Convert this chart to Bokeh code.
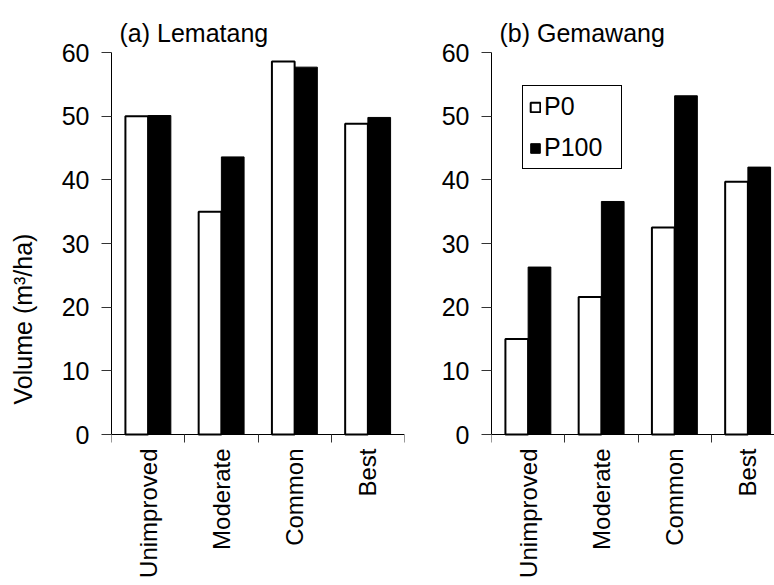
import math
import numpy as np
from bokeh.plotting import figure
from bokeh.layouts import row
from bokeh.models import (Range1d, FixedTicker, CustomJSTickFormatter, Legend,
                          LegendItem, ColumnDataSource)
from bokeh.embed import file_html
from bokeh.resources import INLINE

categories = ["Unimproved", "Moderate", "Common", "Best"]
lematang_p0 = [50.0, 35.0, 58.6, 48.8]
lematang_p100 = [50.1, 43.6, 57.7, 49.8]
gemawang_p0 = [15.0, 21.6, 32.5, 39.7]
gemawang_p100 = [26.3, 36.6, 53.2, 42.0]
y_ticks = [0, 10, 20, 30, 40, 50, 60]
panel_titles = ["(a) Lematang", "(b) Gemawang"]
series_names = ["P0", "P100"]
y_label = "Volume (m\u00b3/ha)"

FONT = "Liberation Sans"
FS = "25px"
BAR_W = 0.31
FIG_H = 585
TOP = 52          # frame top (px)
ZERO = 434        # y=0 position (px)
Y_MAX = 60
# frame extends to the bottom of the canvas; the value axis stays 0..60
Y_MIN = -Y_MAX * (FIG_H - ZERO) / (ZERO - TOP)


def make_panel(title, p0, p100, width, border_left, border_right, x_end,
               ylabel=None, legend=False):
    p = figure(width=width, height=FIG_H, output_backend="svg",
               toolbar_location=None,
               x_range=Range1d(0, x_end), y_range=Range1d(Y_MIN, Y_MAX),
               min_border_left=border_left, min_border_right=border_right,
               min_border_top=TOP, min_border_bottom=0)
    p.outline_line_color = None
    p.xgrid.visible = False
    p.ygrid.visible = False
    p.background_fill_color = "white"
    p.border_fill_color = "white"

    p.title.text = title
    p.title.text_font = FONT
    p.title.text_font_size = FS
    p.title.text_font_style = "normal"
    p.title.text_color = "black"
    p.title.align = "left"
    p.title.offset = 8
    p.title.standoff = 12

    idx = np.arange(len(categories)) + 0.5
    src = ColumnDataSource(dict(x0=idx - BAR_W / 2, x1=idx + BAR_W / 2,
                                p0=p0, p100=p100))
    r0 = p.vbar(x="x0", top="p0", bottom=0, width=BAR_W, source=src,
                fill_color="white", line_color="black", line_width=2)
    r1 = p.vbar(x="x1", top="p100", bottom=0, width=BAR_W, source=src,
                fill_color="black", line_color="black", line_width=1)

    xa = p.xaxis[0]
    xa.fixed_location = 0
    xa.ticker = FixedTicker(ticks=list(idx), minor_ticks=list(range(len(categories) + 1)))
    xa.formatter = CustomJSTickFormatter(args=dict(labels=categories),
                                         code="return labels[Math.floor(tick)];")
    xa.major_label_orientation = math.pi / 2
    xa.major_tick_out = 0
    xa.major_tick_in = 0
    xa.minor_tick_out = 8
    xa.minor_tick_in = 0
    xa.minor_tick_line_color = "#333333"
    xa.axis_line_color = "black"
    xa.major_label_standoff = 6
    xa.major_label_text_font = FONT
    xa.major_label_text_font_size = "24px"
    xa.major_label_text_color = "black"

    ya = p.yaxis[0]
    ya.bounds = (0, Y_MAX)
    ya.ticker = FixedTicker(ticks=y_ticks, minor_ticks=[])
    ya.major_tick_out = 10
    ya.major_tick_in = 0
    ya.major_tick_line_color = "#333333"
    ya.axis_line_color = "black"
    ya.major_label_standoff = 12
    ya.major_label_text_font = FONT
    ya.major_label_text_font_size = FS
    ya.major_label_text_color = "black"
    if ylabel:
        ya.axis_label = ylabel
        ya.axis_label_text_font = FONT
        ya.axis_label_text_font_size = FS
        ya.axis_label_text_font_style = "normal"
        ya.axis_label_text_color = "black"
        ya.axis_label_standoff = 22

    if legend:
        lg = Legend(items=[LegendItem(label=series_names[0], renderers=[r0]),
                           LegendItem(label=series_names[1], renderers=[r1])],
                    location=(31, FIG_H - 169))
        lg.glyph_width = 12
        lg.glyph_height = 12
        lg.label_text_font = FONT
        lg.label_text_font_size = FS
        lg.label_text_color = "black"
        lg.label_standoff = 3
        lg.label_width = 71
        lg.padding = 6
        lg.spacing = 12
        lg.margin = 0
        lg.border_line_color = "black"
        lg.border_line_alpha = 1
        lg.border_line_width = 1
        lg.background_fill_color = "white"
        lg.background_fill_alpha = 1
        p.add_layout(lg)
    return p


p1 = make_panel(panel_titles[0], lematang_p0, lematang_p100, 428, 111, 24, 4.0,
                ylabel=y_label)
p2 = make_panel(panel_titles[1], gemawang_p0, gemawang_p100, 346, 63, 0, 283 / 73.25,
                legend=True)

layout = row(p1, p2)
open("out.html", "w").write(file_html(layout, INLINE))
